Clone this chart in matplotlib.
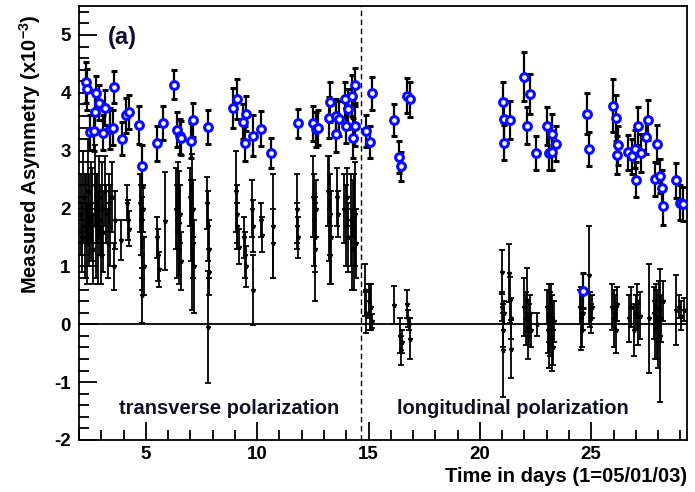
import matplotlib
matplotlib.use("Agg")
import matplotlib.pyplot as plt
from matplotlib.ticker import MultipleLocator

# ---------------- data ----------------
# blue points (upper series)
blue_x = [2.31, 2.37, 2.76, 2.91, 3.17, 2.72, 2.49, 2.67, 3.06, 3.39, 3.54, 3.57, 3.94, 4.13, 4.26,
          4.69, 4.84, 5.51, 5.78, 6.27, 6.41, 6.53, 6.60, 7.05, 7.12, 7.77, 8.92, 9.10, 9.37, 9.52,
          9.44, 9.82, 10.19, 10.64, 11.84, 12.51, 12.63, 12.72, 13.28, 13.22, 13.55, 13.52, 13.67,
          13.93, 14.08, 14.00, 14.30, 14.38, 14.38, 14.27,
          14.87, 15.08, 15.17, 16.14, 16.39, 16.47, 16.74, 16.84, 21.03, 21.07, 21.07, 21.36, 22.00,
          22.27, 22.10, 22.52, 23.02, 23.24, 23.42, 23.09, 23.24, 24.79, 24.91, 25.99, 26.11, 26.20,
          26.14, 26.63, 26.83, 26.98, 27.08, 27.23, 27.01, 27.55, 27.48, 27.95, 27.87, 28.08, 28.16,
          28.23, 28.80, 28.98, 29.13, 24.61]
blue_y = [4.18, 4.06, 3.99, 3.83, 3.74, 3.67, 3.32, 3.34, 3.31, 3.38, 3.40, 4.10, 3.21, 3.61, 3.67,
          3.44, 2.74, 3.13, 3.48, 4.14, 3.36, 3.25, 3.22, 3.17, 3.53, 3.41, 3.74, 3.89, 3.50, 3.64,
          3.13, 3.26, 3.38, 2.96, 3.47, 3.47, 3.37, 3.40, 3.84, 3.57, 3.60, 3.28, 3.55,
          3.89, 3.72, 3.43, 3.22, 3.43, 4.13, 3.95,
          3.34, 3.15, 3.99, 3.53, 2.89, 2.73, 3.95, 3.89, 3.84, 3.54, 3.14, 3.53, 4.28,
          3.98, 3.43, 2.96, 3.43, 3.28, 3.12, 2.96, 2.97, 3.64, 3.03, 3.78, 3.56, 3.09,
          2.93, 2.97, 2.90, 3.03, 3.43, 2.96, 2.50, 3.53, 3.24, 3.12, 2.51, 2.56, 2.36,
          2.05, 2.49, 2.10, 2.08, 0.58]
blue_err = [0.35, 0.35, 0.30, 0.30, 0.30, 0.35, 0.30, 0.35, 0.30, 0.35, 0.30, 0.27, 0.28, 0.30, 0.30,
            0.33, 0.36, 0.30, 0.30, 0.25, 0.30, 0.30, 0.30, 0.30, 0.30, 0.30, 0.35, 0.35, 0.30, 0.30,
            0.30, 0.35, 0.30, 0.26, 0.25, 0.30, 0.30, 0.30, 0.35, 0.35, 0.30, 0.30, 0.30,
            0.30, 0.35, 0.30, 0.35, 0.35, 0.30, 0.35,
            0.28, 0.28, 0.28, 0.28, 0.28, 0.25, 0.30, 0.30, 0.35, 0.35, 0.30, 0.32, 0.43,
            0.35, 0.32, 0.30, 0.33, 0.35, 0.30, 0.30, 0.30, 0.35, 0.30, 0.46, 0.40, 0.33,
            0.33, 0.30, 0.30, 0.33, 0.33, 0.33, 0.30, 0.35, 0.30, 0.33, 0.30, 0.30, 0.30,
            0.33, 0.30, 0.30, 0.30, 0.30]

# black points (lower series)
black_x = [2.10, 2.15, 2.20, 2.25, 2.30, 2.35, 2.40, 2.45, 2.50, 2.55, 2.60, 2.65, 2.70, 2.75, 2.80,
           2.85, 2.90, 2.95, 3.00, 3.05, 3.10, 3.15, 3.20, 3.30, 3.35, 3.40, 3.50, 3.55, 3.60,
           3.90, 4.15, 4.20, 4.25,
           4.75, 4.80, 4.82, 4.85, 4.88, 4.90, 4.85,
           5.52, 5.56, 5.60, 5.86,
           6.35, 6.40, 6.45, 6.50, 6.55, 6.60, 6.48,
           7.00, 7.05, 7.10, 7.12, 7.15, 7.08,
           7.75, 7.80, 7.82, 7.85, 7.80,
           9.05, 9.10, 9.08, 9.20, 9.40, 9.45, 9.50,
           9.78, 9.82, 9.80, 10.15, 10.20, 10.70, 10.72,
           11.78, 11.80, 11.82,
           12.50, 12.55, 12.60, 12.62, 12.58,
           13.20, 13.25, 13.30, 13.28, 13.22, 13.60, 13.62,
           13.90, 14.00, 14.05, 14.10, 14.20, 14.25, 14.30, 14.35, 14.40, 14.45,
           14.85, 14.90, 15.00, 15.05, 15.12, 15.15,
           16.14, 16.40, 16.44, 16.50, 16.74, 16.78, 16.84, 16.80,
           21.00, 21.03, 21.05, 20.98, 21.08,
           21.33, 21.36, 21.38, 21.40,
           22.00, 22.05, 22.10, 22.15, 22.20, 22.25, 22.30, 22.55,
           23.00, 23.05, 23.10, 23.12, 23.15, 23.20, 23.22, 23.25, 23.30, 23.35,
           24.50, 24.55, 24.60, 24.65,
           24.92, 24.95, 25.00, 25.05,
           25.95, 26.00, 26.05, 26.10, 26.15,
           26.70, 26.80, 26.90, 27.00, 27.05, 27.10, 27.20,
           27.60,
           27.80, 27.85, 27.90, 27.95, 28.00, 28.05, 28.10, 28.15, 28.20,
           28.80, 28.95, 29.05, 29.15]
black_y = [1.90, 1.50, 2.20, 1.70, 2.00, 1.40, 2.30, 1.80, 1.60, 2.10, 1.90, 1.30, 2.40, 1.70, 2.00,
           1.50, 2.20, 1.80, 1.20, 2.00, 1.60, 2.30, 1.90, 1.40, 2.10, 1.70, 2.20, 1.00, 1.80,
           1.46, 2.10, 1.80, 1.65,
           2.10, 1.80, 1.50, 1.20, 2.00, 1.00, 0.50,
           1.50, 1.20, 0.95, 1.78,
           2.00, 1.60, 2.30, 1.30, 1.90, 1.10, 1.75,
           2.20, 1.80, 1.40, 2.00, 1.00, 1.60,
           2.10, 1.70, 1.30, 0.90, -0.05,
           2.30, 1.90, 1.70, 1.34, 1.50, 1.20, 1.00,
           2.00, 1.70, 0.59, 1.80, 1.55, 1.70, 1.40,
           2.00, 1.70, 1.50,
           2.20, 1.80, 1.50, 2.00, 1.30,
           2.30, 1.90, 1.50, 1.20, 2.00, 2.20, 1.90,
           2.00, 1.70, 2.20, 1.50, 1.80, 1.30, 2.00, 1.60, 1.90, 1.40,
           0.60, 0.20, 0.40, 0.30, 0.30, 0.05,
           0.33, -0.20, -0.45, -0.30, 0.35, 0.10, -0.25, 0.00,
           0.90, -0.45, -0.10, 0.30, 0.20,
           0.88, 0.42, -0.42, 0.10,
           0.30, 0.10, 0.42, -0.20, 0.00, 0.20, -0.10, 0.00,
           0.30, -0.10, 0.20, -0.30, 0.00, 0.40, -0.20, 0.10, -0.40, 0.05,
           0.30, 0.10, -0.10, 0.20,
           0.85, 0.25, 0.10, 0.30,
           0.30, 0.10, 0.20, -0.10, 0.35,
           0.10, 0.30, -0.10, 0.20, 0.40, 0.00, 0.15,
           0.10,
           0.20, -0.10, 0.30, 0.00, -0.30, 0.25, -0.20, 0.10, 0.40,
           0.25, 0.30, 0.15, 0.25]
black_err = [0.70, 0.60, 0.80, 0.90, 0.60, 0.70, 0.90, 0.80, 0.50, 0.70, 0.80, 0.60, 0.70, 0.90, 0.60,
             0.80, 0.70, 0.60, 0.50, 0.80, 0.70, 0.60, 0.50, 0.60, 0.50, 0.70, 0.60, 0.40, 0.50,
             0.35, 0.30, 0.35, 0.30,
             0.50, 0.60, 0.70, 0.60, 0.40, 0.50, 0.48,
             0.35, 0.45, 0.30, 0.85,
             0.70, 0.80, 0.50, 0.60, 0.50, 0.50, 0.90,
             0.50, 0.70, 0.60, 0.50, 0.80, 1.35,
             0.45, 0.60, 0.50, 0.40, 0.97,
             0.70, 0.50, 0.40, 0.30, 0.35, 0.40, 0.35,
             0.50, 0.45, 0.60, 0.30, 0.30, 0.90, 0.60,
             0.60, 0.40, 0.35,
             0.70, 0.80, 0.60, 0.50, 0.90,
             0.60, 0.70, 0.80, 0.50, 0.90, 0.50, 0.40,
             0.60, 0.70, 0.50, 0.60, 0.80, 0.70, 0.50, 1.00, 0.90, 0.60,
             0.45, 0.35, 0.30, 0.40, 0.40, 0.12,
             0.33, 0.30, 0.25, 0.20, 0.25, 0.15, 0.35, 0.10,
             0.38, 0.80, 0.30, 0.25, 0.20,
             0.50, 0.40, 0.50, 0.35,
             0.50, 0.45, 0.55, 0.40, 0.35, 0.30, 0.30, 0.20,
             0.30, 0.40, 0.50, 0.45, 0.55, 0.30, 0.60, 0.40, 0.30, 0.35,
             0.30, 0.55, 0.30, 0.30,
             0.85, 0.30, 0.25, 0.20,
             0.40, 0.50, 0.30, 0.40, 0.30,
             0.40, 0.35, 0.45, 0.30, 0.30, 0.35, 0.40,
             0.95,
             0.45, 0.50, 0.40, 0.60, 0.45, 0.50, 1.15, 0.40, 0.35,
             0.60, 0.20, 0.25, 0.20]

xticks = [5, 10, 15, 20, 25]
yticks = [-2, -1, 0, 1, 2, 3, 4, 5]
x_range = (2.0, 29.3)
y_range = (-2.0, 5.5)
pol_switch_day = 14.64
region_labels = ["transverse polarization", "longitudinal polarization"]
region_label_x = [8.73, 21.48]
panel_label = "(a)"
xlabel = "Time in days (1=05/01/03)"
ylabel = "Measured Asymmetry (x10$^{\\mathbf{-3}}$)"

# ---------------- plot ----------------
plt.rcParams['font.family'] = ['Liberation Sans', 'DejaVu Sans']
plt.rcParams['mathtext.fontset'] = 'custom'
plt.rcParams['mathtext.rm'] = 'Liberation Sans:bold'
plt.rcParams['mathtext.bf'] = 'Liberation Sans:bold'
plt.rcParams['axes.unicode_minus'] = False

fig = plt.figure(figsize=(6.95, 4.92), dpi=100)
ax = fig.add_axes([79 / 695, 1 - 440 / 492, (687 - 79) / 695, (440 - 6) / 492])

ax.axhline(0, color='black', lw=1.3, zorder=1)
ax.axvline(pol_switch_day, color='black', lw=1.0, ls=(0, (4, 2.5)), zorder=1)

ax.errorbar(black_x, black_y, yerr=black_err, fmt='*', color='black', ms=3.2,
            ecolor='black', elinewidth=1.3, capsize=2.2, capthick=1.3, zorder=2)
ax.errorbar(blue_x, blue_y, yerr=blue_err, fmt='o', ms=5.6, mfc='white', mec='#0a0aff', mew=2.2,
            ecolor='black', elinewidth=1.6, capsize=2.4, capthick=1.6, zorder=3)

ax.set_xlim(*x_range)
ax.set_ylim(*y_range)
ax.set_xticks(xticks)
ax.set_yticks(yticks)
ax.xaxis.set_minor_locator(MultipleLocator(1))
ax.yaxis.set_minor_locator(MultipleLocator(0.2))
ax.tick_params(axis='both', which='both', direction='in', top=False, right=False,
               width=1.3, labelsize=13.5)
ax.tick_params(axis='both', which='major', length=13)
ax.tick_params(axis='both', which='minor', length=7)
ax.tick_params(axis='x', pad=4)
ax.tick_params(axis='y', pad=6)
for lab in ax.get_xticklabels() + ax.get_yticklabels():
    lab.set_fontweight('bold')
for sp in ax.spines.values():
    sp.set_linewidth(1.3)

ax.set_xlabel(xlabel, loc='right', fontsize=14.5, fontweight='bold', labelpad=3)
ax.set_ylabel(ylabel, loc='top', fontsize=14.5, fontweight='bold', labelpad=8)
ax.yaxis.label.set_y(0.98)

ax.text(3.3, 4.95, panel_label, fontsize=17, fontweight='bold', ha='left', va='center',
        color='#111133')
for lx, lt in zip(region_label_x, region_labels):
    ax.text(lx, -1.45, lt, fontsize=14.5, fontweight='bold', ha='center', va='center',
            color='#111122')

fig.savefig('out.png', dpi=100)
